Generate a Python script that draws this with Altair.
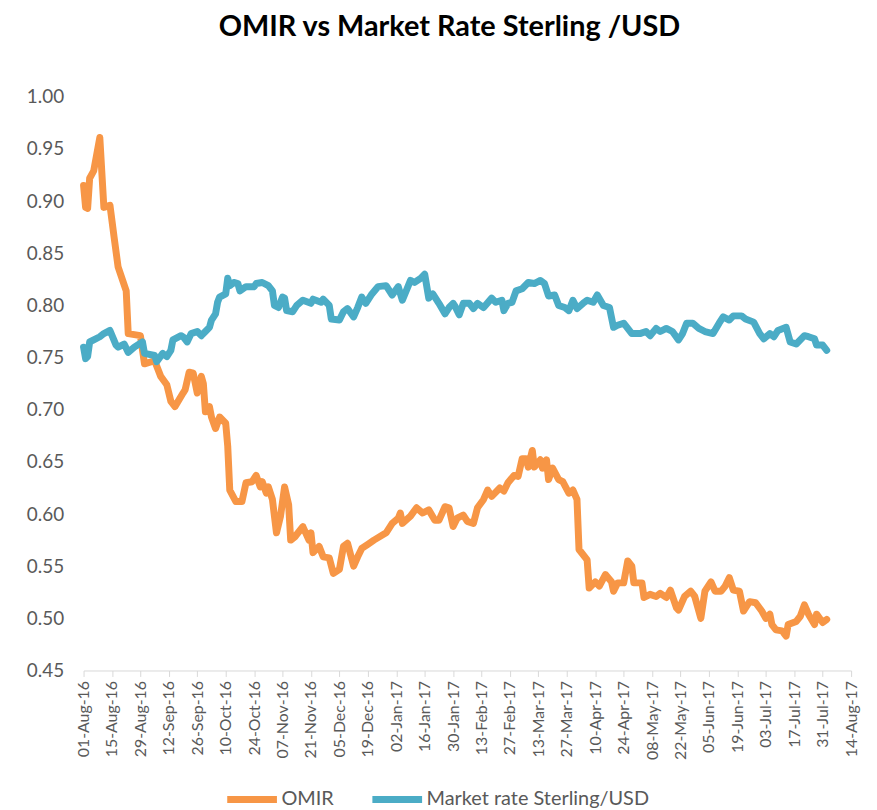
import altair as alt
import pandas as pd

# ---------------- data ----------------
omir_dates = [
    "2016-08-01", "2016-08-02", "2016-08-03", "2016-08-04", "2016-08-06", "2016-08-09", "2016-08-11",
    "2016-08-14", "2016-08-16", "2016-08-18", "2016-08-22", "2016-08-23", "2016-08-29", "2016-08-31",
    "2016-09-05", "2016-09-08", "2016-09-11", "2016-09-13", "2016-09-15", "2016-09-19", "2016-09-20",
    "2016-09-22", "2016-09-24", "2016-09-26", "2016-09-28", "2016-09-29", "2016-09-30", "2016-10-02",
    "2016-10-03", "2016-10-05", "2016-10-07", "2016-10-10", "2016-10-11", "2016-10-12", "2016-10-15",
    "2016-10-18", "2016-10-20", "2016-10-23", "2016-10-25", "2016-10-27", "2016-10-28", "2016-10-30",
    "2016-10-31", "2016-11-02", "2016-11-04", "2016-11-06", "2016-11-08", "2016-11-10", "2016-11-11",
    "2016-11-13", "2016-11-17", "2016-11-20", "2016-11-21", "2016-11-22", "2016-11-25", "2016-11-27",
    "2016-11-30", "2016-12-02", "2016-12-05", "2016-12-07", "2016-12-09", "2016-12-12", "2016-12-14",
    "2016-12-16", "2016-12-19", "2016-12-22", "2016-12-28", "2016-12-31", "2017-01-03", "2017-01-04",
    "2017-01-05", "2017-01-09", "2017-01-12", "2017-01-15", "2017-01-18", "2017-01-21", "2017-01-23",
    "2017-01-26", "2017-01-28", "2017-01-30", "2017-02-01", "2017-02-04", "2017-02-06", "2017-02-09",
    "2017-02-11", "2017-02-14", "2017-02-16", "2017-02-18", "2017-02-22", "2017-02-24", "2017-02-26",
    "2017-03-01", "2017-03-03", "2017-03-05", "2017-03-07", "2017-03-08", "2017-03-10", "2017-03-11",
    "2017-03-14", "2017-03-15", "2017-03-17", "2017-03-18", "2017-03-20", "2017-03-23", "2017-03-25",
    "2017-03-28", "2017-03-30", "2017-04-01", "2017-04-02", "2017-04-06", "2017-04-07", "2017-04-10",
    "2017-04-12", "2017-04-15", "2017-04-18", "2017-04-19", "2017-04-21", "2017-04-24", "2017-04-26",
    "2017-04-28", "2017-04-29", "2017-05-03", "2017-05-04", "2017-05-07", "2017-05-10", "2017-05-12",
    "2017-05-15", "2017-05-17", "2017-05-20", "2017-05-21", "2017-05-24", "2017-05-27", "2017-05-29",
    "2017-06-01", "2017-06-03", "2017-06-06", "2017-06-08", "2017-06-11", "2017-06-13", "2017-06-15",
    "2017-06-17", "2017-06-20", "2017-06-22", "2017-06-25", "2017-06-28", "2017-07-01", "2017-07-03",
    "2017-07-05", "2017-07-06", "2017-07-08", "2017-07-11", "2017-07-13", "2017-07-14", "2017-07-18",
    "2017-07-20", "2017-07-22", "2017-07-24", "2017-07-27", "2017-07-28", "2017-07-31", "2017-08-02",
]
omir_values = [
    0.915, 0.894, 0.893, 0.922, 0.929, 0.961, 0.894,
    0.896, 0.866, 0.837, 0.814, 0.773, 0.771, 0.744,
    0.747, 0.732, 0.724, 0.708, 0.703, 0.716, 0.719,
    0.736, 0.735, 0.716, 0.732, 0.725, 0.698, 0.703,
    0.693, 0.682, 0.693, 0.687, 0.665, 0.623, 0.612,
    0.612, 0.630, 0.631, 0.637, 0.626, 0.631, 0.620,
    0.626, 0.614, 0.582, 0.598, 0.626, 0.609, 0.575,
    0.578, 0.588, 0.575, 0.582, 0.563, 0.569, 0.559,
    0.558, 0.543, 0.547, 0.569, 0.572, 0.550, 0.559,
    0.567, 0.571, 0.575, 0.582, 0.591, 0.596, 0.601,
    0.591, 0.598, 0.606, 0.601, 0.604, 0.594, 0.594,
    0.607, 0.606, 0.588, 0.596, 0.599, 0.593, 0.591,
    0.606, 0.614, 0.623, 0.617, 0.625, 0.622, 0.630,
    0.637, 0.636, 0.653, 0.653, 0.645, 0.661, 0.645,
    0.652, 0.644, 0.652, 0.633, 0.644, 0.633, 0.631,
    0.620, 0.623, 0.614, 0.566, 0.556, 0.529, 0.535,
    0.531, 0.542, 0.535, 0.526, 0.534, 0.534, 0.555,
    0.550, 0.534, 0.534, 0.520, 0.523, 0.521, 0.524,
    0.520, 0.527, 0.510, 0.508, 0.521, 0.526, 0.521,
    0.500, 0.526, 0.535, 0.526, 0.526, 0.531, 0.539,
    0.527, 0.526, 0.507, 0.516, 0.515, 0.507, 0.500,
    0.504, 0.494, 0.489, 0.488, 0.483, 0.494, 0.497,
    0.502, 0.513, 0.504, 0.494, 0.504, 0.496, 0.499,
]

market_dates = [
    "2016-08-01", "2016-08-02", "2016-08-03", "2016-08-04", "2016-08-06", "2016-08-09", "2016-08-11",
    "2016-08-14", "2016-08-17", "2016-08-18", "2016-08-21", "2016-08-23", "2016-08-26", "2016-08-30",
    "2016-08-31", "2016-09-05", "2016-09-06", "2016-09-09", "2016-09-11", "2016-09-13", "2016-09-14",
    "2016-09-18", "2016-09-19", "2016-09-21", "2016-09-23", "2016-09-26", "2016-09-28", "2016-09-30",
    "2016-10-02", "2016-10-03", "2016-10-05", "2016-10-06", "2016-10-07", "2016-10-10", "2016-10-11",
    "2016-10-12", "2016-10-14", "2016-10-16", "2016-10-17", "2016-10-20", "2016-10-24", "2016-10-25",
    "2016-10-28", "2016-10-31", "2016-11-02", "2016-11-03", "2016-11-05", "2016-11-07", "2016-11-08",
    "2016-11-09", "2016-11-12", "2016-11-14", "2016-11-17", "2016-11-21", "2016-11-22", "2016-11-26",
    "2016-11-27", "2016-11-30", "2016-12-01", "2016-12-05", "2016-12-07", "2016-12-09", "2016-12-12",
    "2016-12-14", "2016-12-16", "2016-12-18", "2016-12-21", "2016-12-24", "2016-12-28", "2016-12-31",
    "2017-01-03", "2017-01-05", "2017-01-09", "2017-01-11", "2017-01-14", "2017-01-16", "2017-01-18",
    "2017-01-20", "2017-01-23", "2017-01-26", "2017-01-28", "2017-01-30", "2017-01-31", "2017-02-02",
    "2017-02-04", "2017-02-07", "2017-02-09", "2017-02-11", "2017-02-14", "2017-02-18", "2017-02-20",
    "2017-02-23", "2017-02-24", "2017-02-26", "2017-02-28", "2017-03-02", "2017-03-05", "2017-03-08",
    "2017-03-11", "2017-03-14", "2017-03-16", "2017-03-18", "2017-03-21", "2017-03-23", "2017-03-26",
    "2017-03-28", "2017-03-30", "2017-04-01", "2017-04-04", "2017-04-06", "2017-04-09", "2017-04-11",
    "2017-04-14", "2017-04-17", "2017-04-19", "2017-04-21", "2017-04-24", "2017-04-26", "2017-04-28",
    "2017-05-02", "2017-05-05", "2017-05-07", "2017-05-10", "2017-05-12", "2017-05-15", "2017-05-18",
    "2017-05-21", "2017-05-23", "2017-05-25", "2017-05-28", "2017-05-31", "2017-06-03", "2017-06-07",
    "2017-06-10", "2017-06-12", "2017-06-15", "2017-06-17", "2017-06-21", "2017-06-23", "2017-06-27",
    "2017-06-30", "2017-07-02", "2017-07-05", "2017-07-07", "2017-07-09", "2017-07-13", "2017-07-15",
    "2017-07-18", "2017-07-22", "2017-07-24", "2017-07-27", "2017-07-28", "2017-07-31", "2017-08-02",
]
market_values = [
    0.760, 0.749, 0.751, 0.765, 0.767, 0.770, 0.773,
    0.776, 0.762, 0.760, 0.763, 0.755, 0.760, 0.765,
    0.754, 0.752, 0.746, 0.754, 0.751, 0.757, 0.767,
    0.771, 0.770, 0.765, 0.773, 0.775, 0.771, 0.775,
    0.779, 0.786, 0.792, 0.803, 0.808, 0.811, 0.826,
    0.819, 0.822, 0.821, 0.814, 0.818, 0.818, 0.821,
    0.822, 0.819, 0.814, 0.800, 0.798, 0.808, 0.807,
    0.795, 0.794, 0.800, 0.805, 0.802, 0.806, 0.803,
    0.806, 0.800, 0.787, 0.786, 0.794, 0.797, 0.789,
    0.798, 0.808, 0.802, 0.811, 0.818, 0.819, 0.810,
    0.818, 0.805, 0.824, 0.822, 0.826, 0.830, 0.807,
    0.811, 0.802, 0.792, 0.798, 0.802, 0.799, 0.791,
    0.802, 0.802, 0.797, 0.802, 0.798, 0.807, 0.803,
    0.805, 0.795, 0.802, 0.803, 0.814, 0.816, 0.822,
    0.821, 0.824, 0.821, 0.809, 0.810, 0.800, 0.798,
    0.795, 0.805, 0.797, 0.802, 0.805, 0.803, 0.810,
    0.800, 0.798, 0.779, 0.781, 0.783, 0.778, 0.773,
    0.773, 0.775, 0.771, 0.778, 0.775, 0.778, 0.775,
    0.767, 0.773, 0.783, 0.783, 0.778, 0.775, 0.773,
    0.783, 0.789, 0.786, 0.790, 0.790, 0.787, 0.784,
    0.773, 0.768, 0.773, 0.770, 0.776, 0.779, 0.765,
    0.763, 0.771, 0.770, 0.768, 0.762, 0.762, 0.757,
]

series_names = ["OMIR", "Market rate Sterling/USD"]
series_colors = ["#F79646", "#4BACC6"]

tick_dates = [
    "2016-08-01", "2016-08-15", "2016-08-29", "2016-09-12", "2016-09-26", "2016-10-10", "2016-10-24",
    "2016-11-07", "2016-11-21", "2016-12-05", "2016-12-19", "2017-01-02", "2017-01-16", "2017-01-30",
    "2017-02-13", "2017-02-27", "2017-03-13", "2017-03-27", "2017-04-10", "2017-04-24", "2017-05-08",
    "2017-05-22", "2017-06-05", "2017-06-19", "2017-07-03", "2017-07-17", "2017-07-31", "2017-08-14",
]
y_ticks = [0.45, 0.50, 0.55, 0.60, 0.65, 0.70, 0.75, 0.80, 0.85, 0.90, 0.95, 1.00]

# ---------------- table ----------------
df = pd.concat([
    pd.DataFrame({"date": omir_dates, "value": omir_values, "series": series_names[0]}),
    pd.DataFrame({"date": market_dates, "value": market_values, "series": series_names[1]}),
], ignore_index=True)


def to_dt(s):
    y, m, d = (int(p) for p in s.split("-"))
    return alt.DateTime(year=y, month=m, date=d, utc=True)


FONT = "Lato"
GRAY = "#595959"

chart = alt.Chart(df).mark_line(
    strokeWidth=7, strokeCap="round", strokeJoin="round"
).encode(
    x=alt.X(
        "date:T",
        scale=alt.Scale(type="utc", domain=[to_dt(tick_dates[0]), to_dt(tick_dates[-1])], nice=False),
        axis=alt.Axis(
            title=None,
            values=[to_dt(t) for t in tick_dates],
            labelExpr="utcFormat(datum.value, '%d-%b-%y')",
            labelAngle=270,
            labelFontSize=16,
            labelColor=GRAY,
            labelFont=FONT,
            labelPadding=4,
            labelOverlap=False,
            labelFlush=False,
            grid=False,
            domainColor="#D9D9D9",
            tickColor="#D9D9D9",
            tickSize=6,
            domainWidth=1,
        ),
    ),
    y=alt.Y(
        "value:Q",
        scale=alt.Scale(domain=[0.45, 1.00], nice=False, zero=False),
        axis=alt.Axis(
            title=None,
            values=y_ticks,
            format=".2f",
            labelFontSize=19,
            labelColor=GRAY,
            labelFont=FONT,
            labelPadding=20,
            ticks=False,
            domain=False,
            grid=False,
        ),
    ),
    color=alt.Color(
        "series:N",
        scale=alt.Scale(domain=series_names, range=series_colors),
        sort=series_names,
        legend=alt.Legend(
            title=None,
            orient="none",
            direction="horizontal",
            legendX=141,
            legendY=678,
            symbolType="stroke",
            symbolSize=2500,
            symbolStrokeWidth=7,
            labelFontSize=20,
            labelColor=GRAY,
            labelFont=FONT,
            labelOffset=1,
            labelLimit=0,
            columnPadding=24,
        ),
    ),
    detail="series:N",
).properties(
    width=772,
    height=577,
    title=alt.TitleParams(
        "OMIR vs Market Rate Sterling /USD",
        font=FONT,
        fontSize=29,
        fontWeight="bold",
        color="#000000",
        anchor="middle",
        offset=46,
        dx=-18,
    ),
    padding={"left": 18, "top": 3, "right": 10, "bottom": 0},
).configure_view(
    stroke=None
)

chart.save("out.html", embed_options={"renderer": "svg", "actions": False})
